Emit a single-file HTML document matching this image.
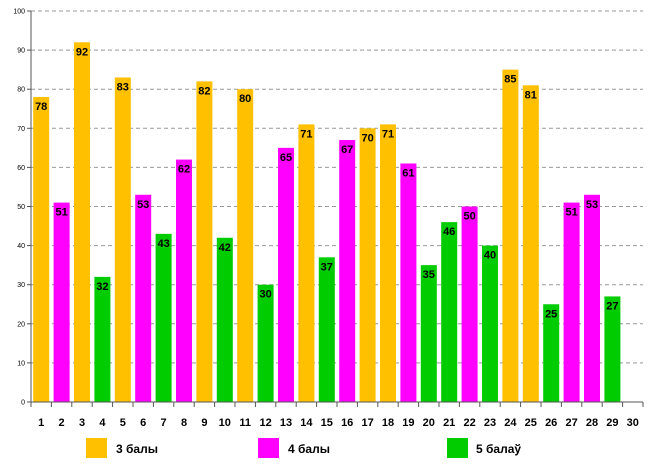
<!DOCTYPE html>
<html><head><meta charset="utf-8"><style>
body{margin:0;background:#fff;font-family:"Liberation Sans",sans-serif}
svg text{font-family:"Liberation Sans",sans-serif}
</style></head><body>
<svg id="chart" width="650" height="468">
<g id="grid"></g><g id="bars"></g><g id="axes"></g>
<g>
<rect x="86" y="438" width="21" height="20" fill="#FFC000"/>
<text x="116" y="453" font-size="12" font-weight="bold">3 балы</text>
<rect x="258" y="438" width="21" height="20" fill="#FF00FF"/>
<text x="288" y="453" font-size="12" font-weight="bold">4 балы</text>
<rect x="447" y="438" width="21" height="20" fill="#00CC00"/>
<text x="476" y="453" font-size="12" font-weight="bold">5 балаў</text>
</g>
</svg>
<script>
const categories=[1,2,3,4,5,6,7,8,9,10,11,12,13,14,15,16,17,18,19,20,21,22,23,24,25,26,27,28,29,30];
const values=[78,51,92,32,83,53,43,62,82,42,80,30,65,71,37,67,70,71,61,35,46,50,40,85,81,25,51,53,27,null];
const grades=[3,4,3,5,3,4,5,4,3,5,3,5,4,3,5,4,3,3,4,5,5,4,5,3,3,5,4,4,5,null];
const yTicks=[0,10,20,30,40,50,60,70,80,90,100];
const colors={3:"#FFC000",4:"#FF00FF",5:"#00CC00"};
const NS="http://www.w3.org/2000/svg";
const x0=31,x1=643,yb=402,yt=11;
const bw=(x1-x0)/categories.length;
const y=v=>yb-(v/100)*(yb-yt);
const xc=i=>x0+i*bw;
function mk(t,a,p){const e=document.createElementNS(NS,t);for(const k in a)e.setAttribute(k,a[k]);p.appendChild(e);return e;}
const grid=document.getElementById('grid'),bars=document.getElementById('bars'),axes=document.getElementById('axes');
yTicks.forEach(v=>{
 if(v>0){const l=mk('line',{x1:x0,x2:x1,y1:y(v),y2:y(v),stroke:'#999','stroke-dasharray':'4,3','stroke-width':1},grid);
 
 }
 const t=mk('text',{x:25,y:y(v)+2.5,'font-size':7,'text-anchor':'end'},axes);t.textContent=v;
 
 
});
values.forEach((v,i)=>{
 if(v!=null){
 const r=mk('rect',{x:xc(i)+2.2,y:y(v),width:bw-4.4,height:yb-y(v),fill:colors[grades[i]]},bars);
 
 
 const t=mk('text',{x:xc(i)+bw/2,y:y(v)+13,'font-size':11,'font-weight':'bold','text-anchor':'middle'},bars);t.textContent=v;
 
 }
 const c=mk('text',{x:xc(i)+bw/2,y:426,'font-size':11,'font-weight':'bold','text-anchor':'middle'},axes);c.textContent=categories[i];
 
 
});
for(let i=0;i<=categories.length;i++){const l=mk('line',{x1:xc(i),x2:xc(i),y1:yb,y2:yb+5,stroke:'#555'},axes);
 
 }
const ax=mk('line',{x1:x0,x2:x1,y1:yb,y2:yb,stroke:'#555'},axes);


const ay=mk('line',{x1:x0,x2:x0,y1:yt,y2:yb,stroke:'#555'},axes);


yTicks.forEach(v=>{const l=mk('line',{x1:x0-4,x2:x0,y1:y(v),y2:y(v),stroke:'#555'},axes);
 
 });
</script>
</body></html>
